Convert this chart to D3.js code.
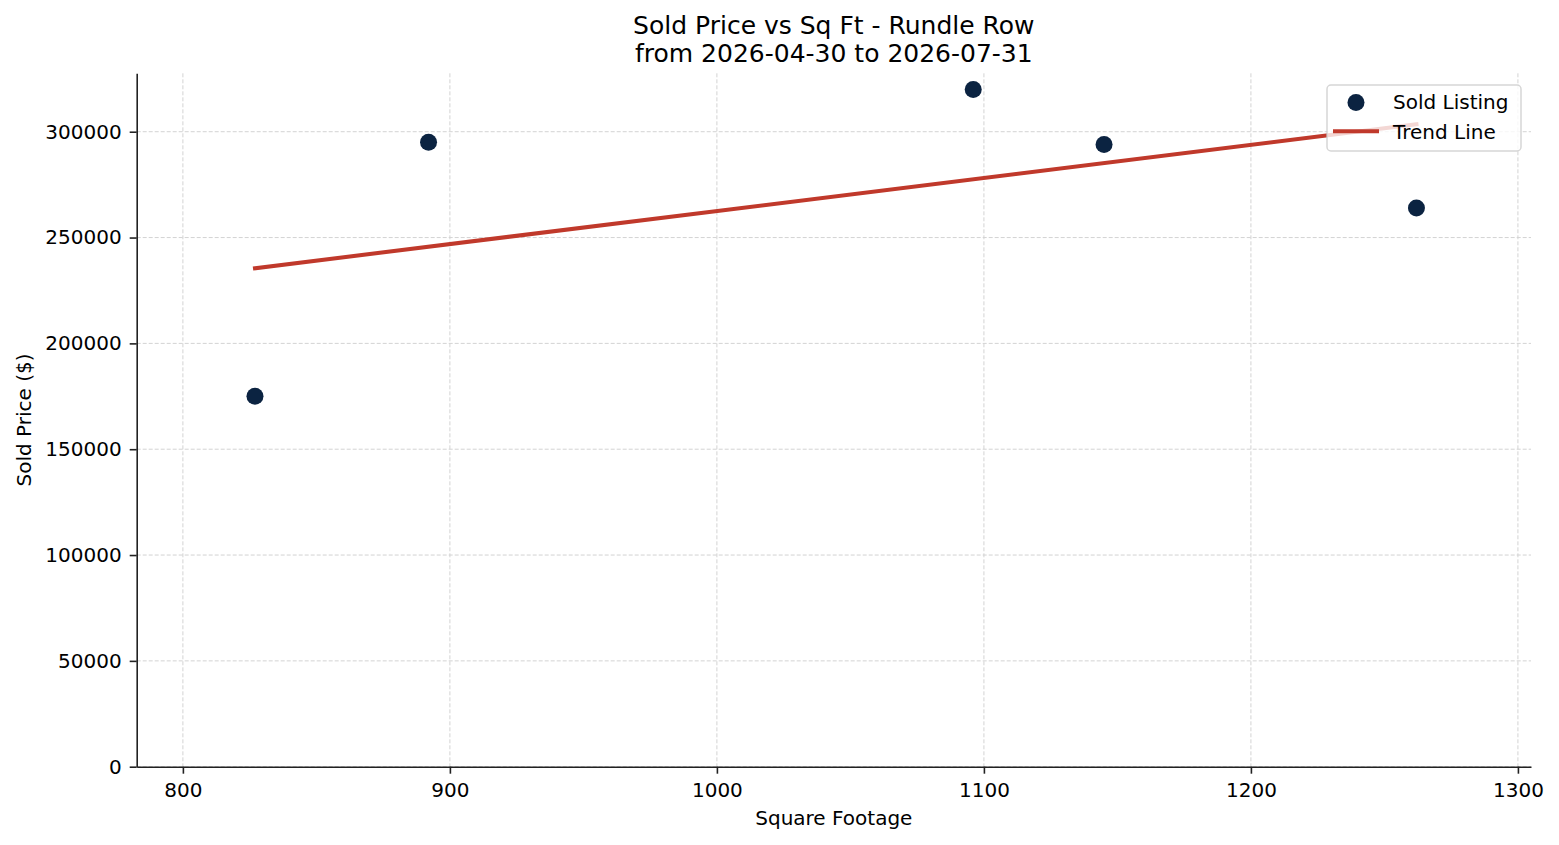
<!DOCTYPE html>
<html>
<head>
<meta charset="utf-8">
<script src="https://cdn.jsdelivr.net/npm/d3@7"></script>
<style>
  html, body { margin: 0; padding: 0; background: #ffffff; }
  svg { display: block; font-family: "DejaVu Sans", sans-serif; }
</style>
</head>
<body>
<svg id="chart" width="1559" height="845"></svg>
<script>
// ---- data ----
const titleLines = ["Sold Price vs Sq Ft - Rundle Row", "from 2026-04-30 to 2026-07-31"];
const sqft = [827, 892, 1096, 1145, 1262];
const soldPrice = [175000, 295000, 320000, 294000, 264000];
const trendSqft = [827, 1262];
const trendPrice = [235500, 303500];
const xTicks = [800, 900, 1000, 1100, 1200, 1300];
const yTicks = [0, 50000, 100000, 150000, 200000, 250000, 300000];
const legendLabels = ["Sold Listing", "Trend Line"];

// ---- layout ----
const W = 1559, H = 845;
const plot = { left: 136.7, right: 1531, top: 73.3, bottom: 766.7 };
const pointColor = "#0b2341";
const lineColor = "#c0392b";
const fontMain = 20;

const svg = d3.select("#chart");

const x = d3.scaleLinear().domain([782.7, 1304.9]).range([plot.left, plot.right]);
const y = d3.scaleLinear().domain([0, 327600]).range([plot.bottom, plot.top]);

// grid
const grid = svg.append("g");
grid.selectAll("line.vg").data(xTicks).join("line")
  .attr("x1", d => x(d)).attr("x2", d => x(d))
  .attr("y1", plot.top).attr("y2", plot.bottom)
  .attr("stroke", "#d3d3d3").attr("stroke-width", 1).attr("stroke-dasharray", "4,2");
grid.selectAll("line.hg").data(yTicks).join("line")
  .attr("x1", plot.left).attr("x2", plot.right)
  .attr("y1", d => y(d)).attr("y2", d => y(d))
  .attr("stroke", "#d3d3d3").attr("stroke-width", 1).attr("stroke-dasharray", "4,2");

// axes
const xAxis = svg.append("g")
  .attr("transform", `translate(0,${plot.bottom})`)
  .call(d3.axisBottom(x).tickValues(xTicks).tickFormat(d3.format("d"))
    .tickSizeInner(7).tickSizeOuter(0).tickPadding(9));
const yAxis = svg.append("g")
  .attr("transform", `translate(${plot.left},0)`)
  .call(d3.axisLeft(y).tickValues(yTicks).tickFormat(d3.format("d"))
    .tickSizeInner(7).tickSizeOuter(0).tickPadding(8));

[xAxis, yAxis].forEach(a => {
  a.select(".domain").attr("stroke", "#222").attr("stroke-width", 1.6);
  a.selectAll(".tick line").attr("stroke", "#222").attr("stroke-width", 1.6);
  a.selectAll(".tick text").attr("fill", "#000").style("font-size", fontMain + "px")
    .style("font-family", "'DejaVu Sans', sans-serif");
});

// axis labels
svg.append("text")
  .attr("x", (plot.left + plot.right) / 2).attr("y", 825)
  .attr("text-anchor", "middle").attr("font-size", fontMain).attr("fill", "#000")
  .text("Square Footage");
svg.append("text")
  .attr("transform", `translate(31,${(plot.top + plot.bottom) / 2}) rotate(-90)`)
  .attr("text-anchor", "middle").attr("font-size", fontMain).attr("fill", "#000")
  .text("Sold Price ($)");

// title
svg.append("g").selectAll("text").data(titleLines).join("text")
  .attr("x", (plot.left + plot.right) / 2)
  .attr("y", (d, i) => 34.3 + i * 28)
  .attr("text-anchor", "middle").attr("font-size", 25).attr("fill", "#000")
  .text(d => d);

// trend line
const trendData = trendSqft.map((d, i) => [d, trendPrice[i]]);
svg.append("path")
  .datum(trendData)
  .attr("d", d3.line().x(d => x(d[0])).y(d => y(d[1])))
  .attr("fill", "none").attr("stroke", lineColor).attr("stroke-width", 4)
  .attr("stroke-linecap", "square");

// points
const pts = sqft.map((d, i) => [d, soldPrice[i]]);
svg.append("g").selectAll("circle").data(pts).join("circle")
  .attr("cx", d => x(d[0])).attr("cy", d => y(d[1]))
  .attr("r", 8.5).attr("fill", pointColor);

// legend
const lg = svg.append("g");
lg.append("rect")
  .attr("x", 1327).attr("y", 85).attr("width", 194).attr("height", 66)
  .attr("rx", 4).attr("fill", "#ffffff").attr("fill-opacity", 0.8)
  .attr("stroke", "#cccccc").attr("stroke-opacity", 0.8).attr("stroke-width", 1.5);
lg.append("circle").attr("cx", 1356).attr("cy", 102.5).attr("r", 8.5).attr("fill", pointColor);
lg.append("line").attr("x1", 1335).attr("x2", 1377).attr("y1", 131.3).attr("y2", 131.3)
  .attr("stroke", lineColor).attr("stroke-width", 4).attr("stroke-linecap", "square");
lg.selectAll("text").data(legendLabels).join("text")
  .attr("x", 1393).attr("y", (d, i) => 109.3 + i * 29.7)
  .attr("font-size", fontMain).attr("fill", "#000")
  .text(d => d);
</script>
</body>
</html>
